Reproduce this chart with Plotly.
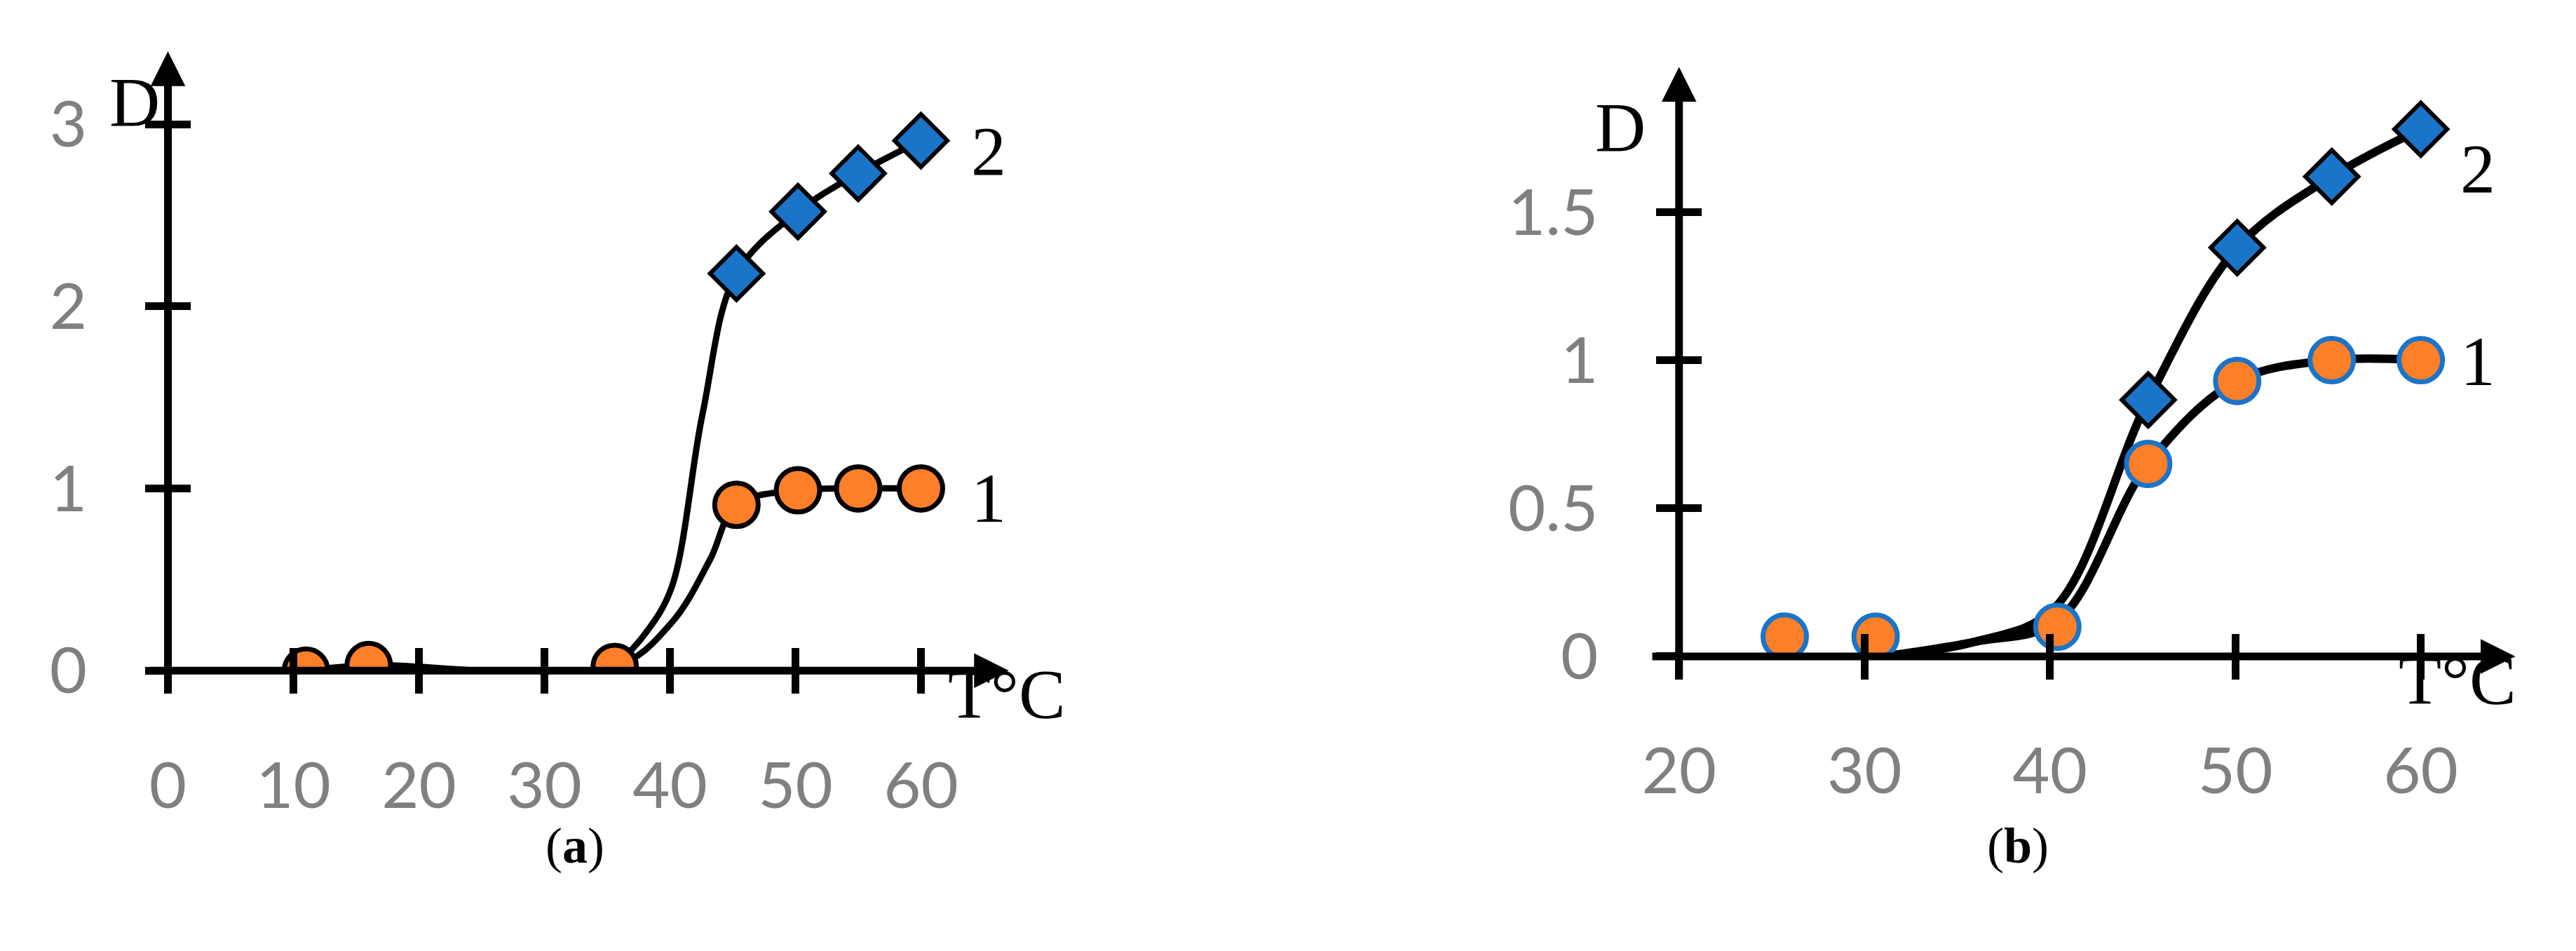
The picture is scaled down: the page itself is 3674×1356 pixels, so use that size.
import plotly.graph_objects as go

W, H = 3674, 1356

# ---- panel (a) ----
a_t1 = [11, 16, 35.6, 45.3, 50.2, 55, 60]
a_d1 = [0.0, 0.03, 0.02, 0.91, 0.99, 1.0, 1.0]
a_t2 = [45.3, 50.2, 55, 60]
a_d2 = [2.18, 2.52, 2.73, 2.91]
# fitted curve knots
a_ct1 = [11, 16, 35.6, 40.1, 43.2, 45.3, 50.2, 55, 60]
a_cd1 = [0.0, 0.03, 0.02, 0.26, 0.61, 0.91, 0.99, 1.0, 1.0]
a_ct2 = [35.6, 38, 40.1, 42.6, 45.3, 50.2, 55, 60]
a_cd2 = [0.02, 0.2, 0.45, 1.41, 2.18, 2.52, 2.73, 2.91]
a_xticks = [0, 10, 20, 30, 40, 50, 60]
a_yticks = [0, 1, 2, 3]

# ---- panel (b) ----
b_t1 = [25.7, 30.6, 40.4, 45.3, 50.1, 55.2, 60]
b_d1 = [0.067, 0.067, 0.1, 0.65, 0.93, 1.0, 1.0]
b_t2 = [45.3, 50.1, 55.2, 60]
b_d2 = [0.866, 1.38, 1.62, 1.78]
b_ct1 = [31, 36, 40.4, 45.3, 50.1, 55.2, 60]
b_cd1 = [0.0, 0.05, 0.12, 0.65, 0.93, 1.0, 1.0]
b_ct2 = [31, 36, 40.2, 45.3, 50.1, 55.2, 60]
b_cd2 = [0.0, 0.05, 0.16, 0.866, 1.38, 1.62, 1.78]
b_xticks = [20, 30, 40, 50, 60]
b_yticks = [0, 0.5, 1, 1.5]
b_yticklabels = ["0", "0.5", "1", "1.5"]

ORANGE = "#fd7f28"
BLUE = "#1a74c8"
GREY = "#808080"
LW = 9


def curve(x, y, xa, ya, width):
    return go.Scatter(x=x, y=y, mode="lines", xaxis=xa, yaxis=ya, hoverinfo="skip",
                      line=dict(color="black", width=width, shape="spline", smoothing=1))


def diamonds(x, y, xa, ya):
    return go.Scatter(x=x, y=y, mode="markers", xaxis=xa, yaxis=ya,
                      marker=dict(symbol="diamond", size=58, color=BLUE,
                                  line=dict(color="black", width=6)))


def circles(x, y, xa, ya, edge):
    return go.Scatter(x=x, y=y, mode="markers", xaxis=xa, yaxis=ya,
                      marker=dict(symbol="circle", size=62, color=ORANGE,
                                  line=dict(color=edge, width=7)))


fig = go.Figure()
fig.add_trace(curve(a_ct2, a_cd2, "x", "y", LW))
fig.add_trace(curve(a_ct1, a_cd1, "x", "y", LW))
fig.add_trace(diamonds(a_t2, a_d2, "x", "y"))
fig.add_trace(circles(a_t1, a_d1, "x", "y", "black"))

fig.add_trace(curve(b_ct2, b_cd2, "x2", "y2", LW + 3))
fig.add_trace(curve(b_ct1, b_cd1, "x2", "y2", LW + 3))
fig.add_trace(diamonds(b_t2, b_d2, "x2", "y2"))
fig.add_trace(circles(b_t1, b_d1, "x2", "y2", BLUE))

# dummy traces so the inner-tick overlay axes render
for xa, ya in (("x3", "y3"), ("x4", "y4")):
    fig.add_trace(go.Scatter(x=[None], y=[None], xaxis=xa, yaxis=ya, hoverinfo="skip"))

tickfont = dict(family="Lato, Open Sans, sans-serif", size=92, color=GREY)
common = dict(showgrid=False, zeroline=False, showline=False, ticklen=32, tickwidth=11,
              tickcolor="black", tickfont=tickfont, fixedrange=True)

a_dom_x, a_dom_y = [0.0493, 0.3805], [0.2729, 0.950]
b_dom_x, b_dom_y = [0.6445, 0.9739], [0.2884, 0.9329]
a_rx, a_ry = [0, 67], [0, 3.4]
b_rx, b_ry = [20, 65.1], [0, 1.99]

fig.update_layout(
    width=W, height=H, margin=dict(l=0, r=0, t=0, b=0),
    plot_bgcolor="white", paper_bgcolor="white", showlegend=False,
    xaxis=dict(domain=a_dom_x, range=a_rx, anchor="y", tickvals=a_xticks, ticks="outside",
               ticklabelstandoff=52, **common),
    yaxis=dict(domain=a_dom_y, range=a_ry, anchor="x", tickvals=a_yticks, ticks="outside",
               ticklabelstandoff=64, **common),
    xaxis2=dict(domain=b_dom_x, range=b_rx, anchor="y2", tickvals=b_xticks, ticks="outside",
                ticklabelstandoff=52, **common),
    yaxis2=dict(domain=b_dom_y, range=b_ry, anchor="x2", tickvals=b_yticks, ticktext=b_yticklabels,
                ticks="outside", ticklabelstandoff=64, **common),
    xaxis3=dict(overlaying="x", matches="x", anchor="y3", tickvals=a_xticks, ticks="inside",
                showticklabels=False, **common),
    yaxis3=dict(overlaying="y", matches="y", anchor="x3", tickvals=a_yticks, ticks="inside",
                showticklabels=False, **common),
    xaxis4=dict(overlaying="x2", matches="x2", anchor="y4", tickvals=b_xticks, ticks="inside",
                showticklabels=False, **common),
    yaxis4=dict(overlaying="y2", matches="y2", anchor="x4", tickvals=b_yticks, ticks="inside",
                showticklabels=False, **common),
)


# axis lines with arrowheads
def axis_arrow(xref, yref, x0, y0, x1, y1):
    fig.add_annotation(x=x1, y=y1, ax=x0, ay=y0, xref=xref, yref=yref, axref=xref, ayref=yref,
                       text="", showarrow=True, arrowhead=2, arrowsize=0.9, arrowwidth=11,
                       arrowcolor="black")


axis_arrow("x", "y", a_rx[0], -0.1, a_rx[0], a_ry[1])
axis_arrow("x", "y", a_rx[0] - 1.5, 0, a_rx[1], 0)
axis_arrow("x2", "y2", b_rx[0], -0.08, b_rx[0], b_ry[1])
axis_arrow("x2", "y2", b_rx[0] - 1.5, 0, b_rx[1], 0)

serif = "Liberation Serif, Times New Roman, serif"
labels = [
    ("D", 94, 83), ("2", 1369, 156), ("1", 1369, 731), ("T°C", 1395, 1080),
    ("D", 2283, 121), ("2", 3551, 182), ("1", 3551, 528), ("T°C", 3582, 1060),
    ("(<b>a</b>)", 725, 1289), ("(<b>b</b>)", 2905, 1289),
]
for txt, px, py in labels:
    size = 72 if txt.startswith("(") else 100
    fig.add_annotation(text=txt, x=px / W, y=1 - py / H, xref="paper", yref="paper",
                       showarrow=False, font=dict(family=serif, size=size, color="black"))

fig.write_html("out.html")
